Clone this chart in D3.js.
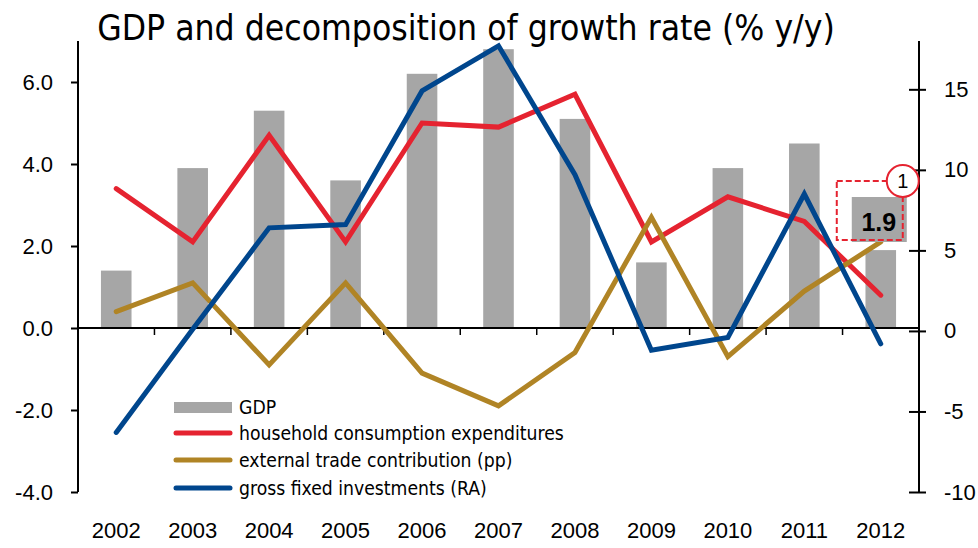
<!DOCTYPE html>
<html>
<head>
<meta charset="utf-8">
<script src="https://cdn.jsdelivr.net/npm/d3@7"></script>
<style>
  html, body { margin: 0; padding: 0; background: #fff; }
  svg { display: block; }
</style>
</head>
<body>
<svg id="chart" width="978" height="548"></svg>
<script>
// ---- data ----
const years = ["2002","2003","2004","2005","2006","2007","2008","2009","2010","2011","2012"];
const gdp = [1.4, 3.9, 5.3, 3.6, 6.2, 6.8, 5.1, 1.6, 3.9, 4.5, 1.9];
const household = [3.4, 2.1, 4.7, 2.1, 5.0, 4.9, 5.7, 2.1, 3.2, 2.6, 0.8];
const externalTrade = [0.4, 1.1, -0.9, 1.1, -1.1, -1.9, -0.6, 2.7, -0.7, 0.9, 2.1];
const investments = [-6.3, 0.1, 6.4, 6.6, 14.9, 17.7, 9.7, -1.2, -0.4, 8.5, -0.8];
const leftTicks = [-4, -2, 0, 2, 4, 6];
const rightTicks = [-10, -5, 0, 5, 10, 15];
const titleText = "GDP and decomposition of growth rate (% y/y)";
const legendLabels = ["GDP", "household consumption expenditures", "external trade contribution (pp)", "gross fixed investments (RA)"];
const lastLabel = "1.9";
const noteLabel = "1";

// ---- styles ----
const C = { gdp: "#A6A6A6", red: "#E52330", gold: "#B08425", blue: "#00468D", ink: "#000" };
const roundFont = "'DejaVu Sans Condensed', 'DejaVu Sans', sans-serif";
const axisFont = "'Liberation Sans', Arial, sans-serif";

const svg = d3.select("#chart");
const L = 78, R = 919, T = 41, B = 492;

const x = d3.scaleBand().domain(years).range([L, R]).paddingInner(0).paddingOuter(0);
const yL = d3.scaleLinear().domain([-4, 7]).range([B, T]);
const yR = d3.scaleLinear().domain([-10, 18]).range([B, T]);
const cx = d => x(d) + x.bandwidth() / 2;
const barW = x.bandwidth() * 0.4;

// title
const title = svg.append("text")
  .attr("x", 466).attr("y", 40)
  .attr("text-anchor", "middle")
  .style("font-family", roundFont).style("font-size", "33px").style("fill", C.ink)
  .text(titleText);
{
  const w = title.node().getComputedTextLength();
  title.style("font-size", (33 * 738 / w) + "px");
}

// bars
svg.append("g").selectAll("rect").data(years).join("rect")
  .attr("x", (d) => cx(d) - barW / 2)
  .attr("width", barW)
  .attr("y", (d, i) => Math.min(yL(gdp[i]), yL(0)))
  .attr("height", (d, i) => Math.abs(yL(gdp[i]) - yL(0)))
  .attr("fill", C.gdp);

// x axis line at zero with tick marks at band boundaries
const xg = svg.append("g");
xg.append("line").attr("x1", L).attr("x2", R).attr("y1", yL(0)).attr("y2", yL(0))
  .attr("stroke", C.ink).attr("stroke-width", 2);
xg.selectAll("line.tk").data(years.slice(1)).join("line").attr("class", "tk")
  .attr("x1", d => x(d)).attr("x2", d => x(d))
  .attr("y1", yL(0)).attr("y2", yL(0) + 7)
  .attr("stroke", C.ink).attr("stroke-width", 1.5);

// year labels via axisBottom
const xa = svg.append("g").attr("transform", `translate(0,${B + 30})`)
  .call(d3.axisBottom(x).tickSize(0).tickPadding(0));
xa.select(".domain").remove();
xa.selectAll("text").style("font-family", axisFont).style("font-size", "22px").style("fill", C.ink).attr("dy", "0.71em");

// left axis
const la = svg.append("g").attr("transform", `translate(${L},0)`)
  .call(d3.axisLeft(yL).tickValues(leftTicks).tickSize(7).tickSizeOuter(0).tickPadding(18)
    .tickFormat(d => d.toFixed(1)));
la.select(".domain").attr("d", `M0,${T}V${B}`).attr("stroke", C.ink).attr("stroke-width", 2);
la.selectAll("line").attr("stroke", C.ink).attr("stroke-width", 2);
la.selectAll("text").style("font-family", axisFont).style("font-size", "22px").style("fill", C.ink);

// right axis
const ra = svg.append("g").attr("transform", `translate(${R},0)`)
  .call(d3.axisRight(yR).tickValues(rightTicks).tickSize(7).tickSizeOuter(0).tickPadding(18)
    .tickFormat(d => String(d)));
ra.select(".domain").attr("d", `M0,${T}V${B}`).attr("stroke", C.ink).attr("stroke-width", 2);
ra.selectAll(".tick line").attr("x1", -10).attr("x2", 7).attr("stroke", C.ink).attr("stroke-width", 2);
ra.selectAll("text").style("font-family", axisFont).style("font-size", "22px").style("fill", C.ink);

// lines
function drawLine(vals, scale, color) {
  const gen = d3.line().x((d, i) => cx(years[i])).y(d => scale(d));
  svg.append("path").datum(vals).attr("d", gen)
    .attr("fill", "none").attr("stroke", color).attr("stroke-width", 5)
    .attr("stroke-linecap", "round").attr("stroke-linejoin", "miter");
}
drawLine(household, yL, C.red);
drawLine(externalTrade, yL, C.gold);
drawLine(investments, yR, C.blue);

// data label for last GDP bar
const lx = cx(years[years.length - 1]);
svg.append("rect").attr("x", lx - 29).attr("y", 197).attr("width", 55).attr("height", 45).attr("fill", C.gdp);
svg.append("text").attr("x", lx - 2).attr("y", 231).attr("text-anchor", "middle")
  .style("font-family", axisFont).style("font-size", "25px").style("font-weight", "bold").style("fill", C.ink)
  .text(lastLabel);
svg.append("rect").attr("x", lx - 44).attr("y", 181).attr("width", 66).attr("height", 59)
  .attr("fill", "none").attr("stroke", C.red).attr("stroke-width", 2).attr("stroke-dasharray", "6,3");
svg.append("circle").attr("cx", lx + 22).attr("cy", 181).attr("r", 16)
  .attr("fill", "#fff").attr("stroke", C.red).attr("stroke-width", 2);
svg.append("text").attr("x", lx + 22).attr("y", 188).attr("text-anchor", "middle")
  .style("font-family", axisFont).style("font-size", "20px").style("fill", C.ink).text(noteLabel);

// legend
const lg = svg.append("g");
const rowsY = [407.5, 433, 460, 488];
const legendColors = [C.gdp, C.red, C.gold, C.blue];
lg.append("rect").attr("x", 174).attr("y", rowsY[0] - 5.5).attr("width", 58).attr("height", 11).attr("fill", C.gdp);
[1, 2, 3].forEach(i => {
  lg.append("line").attr("x1", 176).attr("x2", 230).attr("y1", rowsY[i]).attr("y2", rowsY[i])
    .attr("stroke", legendColors[i]).attr("stroke-width", 5).attr("stroke-linecap", "round");
});
const lt = lg.selectAll("text").data(legendLabels).join("text")
  .attr("x", 239).attr("y", (d, i) => rowsY[i]).attr("dy", "0.35em")
  .style("font-family", roundFont).style("font-size", "18px").style("fill", C.ink)
  .text(d => d);
{
  const w = lt.nodes()[1].getComputedTextLength();
  lt.style("font-size", (18 * 325 / w) + "px");
}
</script>
</body>
</html>
